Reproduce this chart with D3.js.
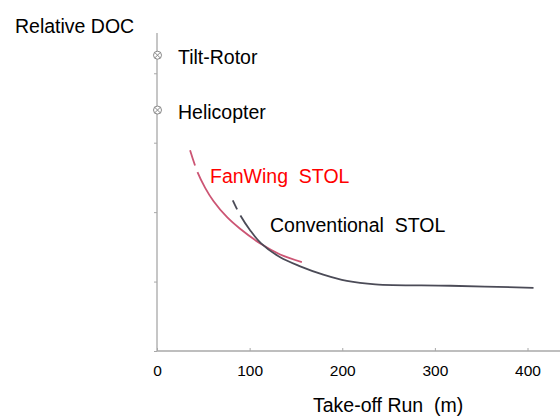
<!DOCTYPE html>
<html><head><meta charset="utf-8">
<script src="https://cdn.jsdelivr.net/npm/d3@7/dist/d3.min.js"></script>
<style>body{margin:0;background:#fff}svg text{font-family:"Liberation Sans",Arial,sans-serif}</style>
</head><body><svg id="c" width="560" height="417"></svg>
<script>
const xTicks=[0,100,200,300,400];
const yTicks=[0,1,2,3,4];
const fanwingX=[35.7,43.6,52,60.9,75.4,89.7,112.4,133,156.4];
const fanwingY=[2.89,2.58,2.35,2.16,1.93,1.76,1.54,1.39,1.28];
const convX=[81.8,89.7,100.5,112.4,133,154.6,179.5,205,235.7,316.8,406.5];
const convY=[2.17,1.96,1.74,1.55,1.35,1.22,1.10,1.01,0.96,0.94,0.91];
const pointNames=["Tilt-Rotor","Helicopter"];
const pointX=[0,0];
const pointY=[4.26,3.47];

const svg=d3.select("#c");
const x=d3.scaleLinear().domain([0,400]).range([157,527.5]);
const y=d3.scaleLinear().domain([0,4.58]).range([351,33]);
const axisCol="#a8a8a8";

// axes
svg.append("line").attr("x1",x(0)).attr("x2",560).attr("y1",y(0)).attr("y2",y(0)).attr("stroke",axisCol).attr("stroke-width",1.3);
svg.append("line").attr("x1",x(0)).attr("x2",x(0)).attr("y1",y(0)).attr("y2",y(4.58)).attr("stroke",axisCol).attr("stroke-width",1.3);
const xa=svg.append("g").attr("transform",`translate(0,${y(0)})`)
  .call(d3.axisBottom(x).tickValues(xTicks).tickSize(-3).tickPadding(14));
xa.select(".domain").remove();
xa.selectAll("line").attr("stroke",axisCol);
xa.selectAll("text").attr("font-size",15.5).attr("fill","#000").attr("font-family","Liberation Sans, Arial, sans-serif");
const ya=svg.append("g").attr("transform",`translate(${x(0)},0)`)
  .call(d3.axisLeft(y).tickValues(yTicks).tickSize(3).tickFormat(""));
ya.select(".domain").remove();
ya.selectAll("line").attr("stroke",axisCol);

// curves
const line=d3.line().x(d=>x(d[0])).y(d=>y(d[1])).curve(d3.curveCatmullRom.alpha(0.5));
const fw=fanwingX.map((v,i)=>[v,fanwingY[i]]);
const cv=convX.map((v,i)=>[v,convY[i]]);
svg.append("path").attr("d",line(fw)).attr("fill","none").attr("stroke","#cc5574").attr("stroke-width",1.8)
  .attr("stroke-dasharray","16,7,2000");
svg.append("path").attr("d",line(cv)).attr("fill","none").attr("stroke","#4b4b57").attr("stroke-width",1.8)
  .attr("stroke-dasharray","10,7,2000");

// markers
pointNames.forEach((n,i)=>{
  const g=svg.append("g").attr("transform",`translate(${x(pointX[i])+0.5},${y(pointY[i])})`);
  g.append("circle").attr("r",4).attr("fill","#fff").attr("stroke","#888").attr("stroke-width",1);
  g.append("path").attr("d","M-2.8,-2.8L2.8,2.8M-2.8,2.8L2.8,-2.8").attr("stroke","#888").attr("stroke-width",1);
  svg.append("text").attr("x",178).attr("y",y(pointY[i])+9).attr("font-size",19.5).attr("fill","#000").text(n);
});

svg.append("text").attr("x",210).attr("y",183).attr("font-size",19.5).attr("fill","#ff0000").style("white-space","pre").text("FanWing  STOL");
svg.append("text").attr("x",270).attr("y",232).attr("font-size",19.5).attr("fill","#000").style("white-space","pre").text("Conventional  STOL");
svg.append("text").attr("x",15).attr("y",33).attr("font-size",19.5).attr("fill","#000").text("Relative DOC");
svg.append("text").attr("x",313).attr("y",412).attr("font-size",19.5).attr("fill","#000").style("white-space","pre").text("Take-off Run  (m)");
</script></body></html>
